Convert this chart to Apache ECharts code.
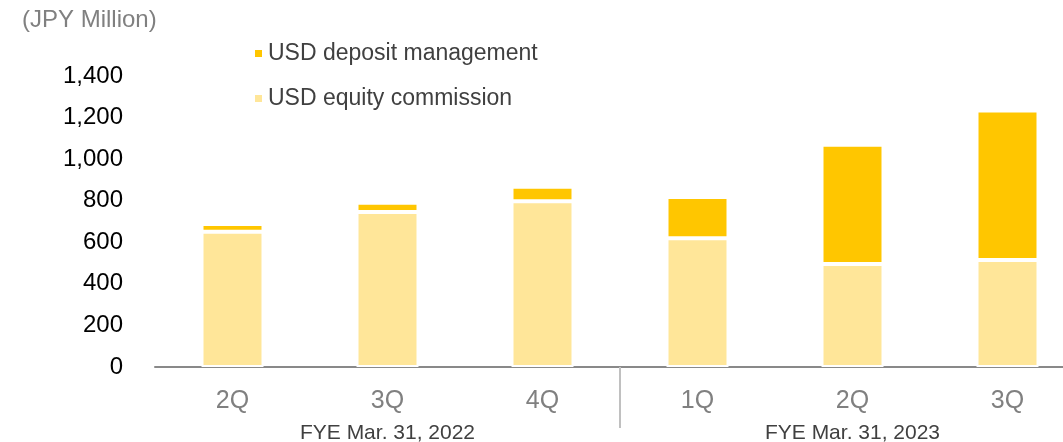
<!DOCTYPE html>
<html>
<head>
<meta charset="utf-8">
<script src="https://cdn.jsdelivr.net/npm/echarts@6/dist/echarts.min.js"></script>
<style>
  html, body { margin: 0; padding: 0; background: #fff; }
  #main { width: 1063px; height: 442px; }
</style>
</head>
<body>
<div id="main"></div>
<script>
const quarters = ['2Q', '3Q', '4Q', '1Q', '2Q', '3Q']
const fiscalYears = ['FYE Mar. 31, 2022', 'FYE Mar. 31, 2023']
// JPY million
const equityCommission = [651, 746, 798, 619, 496, 515]
const depositManagement = [37, 44, 69, 199, 573, 719]
const yTicks = { min: 0, max: 1400, interval: 200 }

const font = 'Liberation Sans, Arial, sans-serif'

let myChart = echarts.init(document.getElementById('main'))
let option = {
  animation: false,
  title: {
    text: '(JPY Million)',
    left: 22,
    top: 8,
    padding: 0,
    textStyle: { color: '#808080', fontSize: 24, fontWeight: 'normal', fontFamily: font }
  },
  legend: {
    orient: 'vertical',
    left: 253,
    top: 42,
    padding: 0,
    itemWidth: 9,
    itemHeight: 9,
    itemGap: 22,
    icon: 'rect',
    data: ['USD deposit management', 'USD equity commission'],
    textStyle: { color: '#404040', fontSize: 23, fontFamily: font }
  },
  grid: {
    left: 155,
    top: 76,
    width: 930,
    height: 291,
    outerBoundsMode: 'none',
    containLabel: false
  },
  xAxis: [
    {
      type: 'category',
      data: quarters,
      position: 'bottom',
      axisLine: { lineStyle: { color: '#898989', width: 2 } },
      axisTick: { show: false },
      axisLabel: { color: '#808080', fontSize: 25, margin: 22, fontFamily: font }
    },
    {
      // year groups: 3 quarters each, separator between them
      type: 'value',
      min: 0,
      max: quarters.length,
      position: 'bottom',
      axisLine: { show: false },
      splitLine: { show: false },
      axisTick: {
        show: true,
        customValues: [3],
        length: 61,
        lineStyle: { color: '#c0c0c0', width: 2 }
      },
      axisLabel: {
        customValues: [1.5, 4.5],
        formatter: v => fiscalYears[Math.floor(v / 3)],
        color: '#404040',
        fontSize: 21,
        margin: 56,
        fontFamily: font
      }
    }
  ],
  yAxis: {
    type: 'value',
    min: yTicks.min,
    max: yTicks.max,
    interval: yTicks.interval,
    axisLine: { show: false },
    axisTick: { show: false },
    splitLine: { show: false },
    axisLabel: {
      color: '#000',
      fontSize: 24,
      margin: 32,
      fontFamily: font,
      formatter: v => v.toLocaleString('en-US')
    }
  },
  series: [
    {
      name: 'USD equity commission',
      type: 'bar',
      stack: 'total',
      barWidth: 62,
      itemStyle: { color: '#FFE699', borderColor: '#fff', borderWidth: 2 },
      data: equityCommission
    },
    {
      name: 'USD deposit management',
      type: 'bar',
      stack: 'total',
      barWidth: 62,
      itemStyle: { color: '#FFC600', borderColor: '#fff', borderWidth: 2 },
      data: depositManagement
    }
  ]
}
myChart.setOption(option)
</script>
</body>
</html>
